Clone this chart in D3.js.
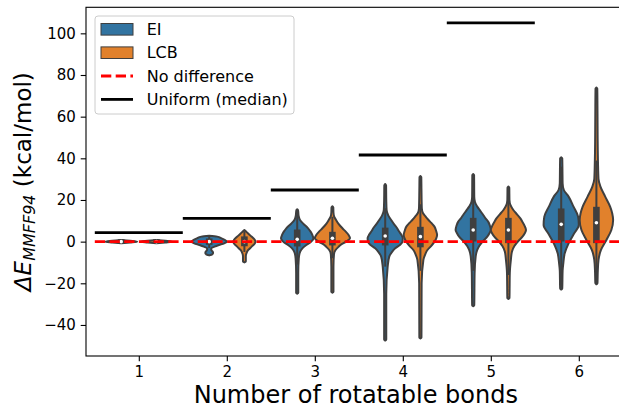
<!DOCTYPE html>
<html><head><meta charset="utf-8">
<script src="https://cdn.jsdelivr.net/npm/d3@7"></script>
<style>
body{margin:0;background:#fff}
svg{display:block}
text{font-family:"DejaVu Sans",sans-serif;fill:#000}
</style></head>
<body>
<svg id="chart" width="619" height="410"></svg>
<script>
// ---------------- data ----------------
const categories = [1, 2, 3, 4, 5, 6];
const seriesNames = ["EI", "LCB"];
const seriesColors = ["#3274a1", "#e1812c"];
const yTicks = [-40, -20, 0, 20, 40, 60, 80, 100];
const uniformMedian = [4.3, 11.2, 24.8, 41.6, 105, null];

// box stats per category: [whiskerLow, q1, median, q3, whiskerHigh]
const eiBox = [
  [-1, -0.4, 0, 0.4, 1],
  [-3, -0.8, 0, 0.8, 2.5],
  [-11, -1.6, 1.1, 5.1, 14.5],
  [-12, -1.1, 2.7, 6, 16],
  [-14, 0.8, 5.6, 10.7, 25],
  [-22, 0.8, 8.3, 15.2, 36]
];
const lcbBox = [
  [-1, -0.4, 0, 0.4, 1],
  [-5, -1.5, 0, 1.8, 5],
  [-8, -1.1, 1.6, 4, 12],
  [-14, -2, 2.4, 6.4, 18],
  [-16, 0, 5.6, 10.7, 26],
  [-20, 0, 9.1, 16, 39]
];

// density profiles per category: [value, relative half width]
const eiDensity = [
  [[-0.8,0],[-0.4,0.5],[0,0.9],[0.4,0.5],[0.8,0]],
  [[-6.6,0],[-6.3,0.12],[-5.6,0.22],[-4.8,0.2],[-4,0.12],[-3.2,0.12],[-2.4,0.3],[-1.6,0.55],[-0.8,0.85],[0,1],[0.8,0.9],[1.6,0.7],[2.4,0.45],[2.8,0]],
  [[-25,0],[-24.5,0.06],[-15,0.06],[-8,0.09],[-4.8,0.17],[-3,0.32],[-1.6,0.52],[0,0.8],[1.6,0.92],[3.2,0.86],[4.8,0.76],[6.4,0.62],[8.5,0.36],[10.4,0.16],[12.5,0.08],[15,0.05],[15.5,0]],
  [[-47.5,0],[-47,0.06],[-25,0.06],[-12,0.14],[-7.2,0.23],[-5,0.38],[-3.2,0.57],[-1.5,0.85],[0,0.98],[1.7,1],[3.5,0.9],[5,0.78],[6.4,0.68],[8.4,0.5],[10.4,0.34],[12.5,0.18],[15.2,0.08],[20,0.06],[27,0.05],[27.7,0]],
  [[-31,0],[-30.5,0.06],[-15,0.08],[-7.2,0.14],[-4,0.23],[-2,0.35],[-0.8,0.45],[0.8,0.62],[2.4,0.8],[4,0.92],[5.6,1],[7.6,0.95],[9.6,0.85],[11.2,0.7],[12.8,0.57],[14.8,0.4],[16.8,0.23],[19,0.1],[21.6,0.06],[32,0.05],[32.5,0]],
  [[-23,0],[-22.5,0.06],[-14,0.08],[-10.4,0.12],[-5.6,0.2],[-0.8,0.42],[4,0.74],[8,1],[12,0.96],[16.8,0.7],[21.6,0.42],[24.8,0.15],[28,0.08],[35,0.07],[40,0.06],[40.5,0]]
];
const lcbDensity = [
  [[-0.8,0],[-0.4,0.5],[0,0.9],[0.4,0.5],[0.8,0]],
  [[-10,0],[-9.5,0.08],[-7,0.08],[-5.5,0.12],[-4,0.22],[-2.5,0.4],[-1,0.58],[0,0.63],[1,0.58],[2.5,0.4],[4,0.2],[5,0.08],[5.6,0]],
  [[-24.5,0],[-24,0.06],[-12,0.06],[-6,0.09],[-4,0.18],[-2.5,0.35],[-1.6,0.46],[0,0.78],[1.6,1],[3.2,0.92],[4.8,0.76],[6.4,0.57],[8.5,0.35],[10.5,0.2],[12,0.1],[14,0.06],[16.5,0.05],[17,0]],
  [[-46.5,0],[-46,0.06],[-20,0.07],[-8.8,0.17],[-6,0.28],[-4,0.4],[-2,0.62],[0,0.8],[1.6,0.9],[3.2,0.95],[5,0.9],[7.2,0.8],[9,0.62],[10.5,0.45],[12,0.3],[13.6,0.15],[16,0.08],[25,0.06],[31,0.05],[31.5,0]],
  [[-27.5,0],[-27,0.06],[-15,0.08],[-8.8,0.14],[-4.8,0.2],[-2,0.35],[-0.8,0.45],[0.8,0.62],[2.4,0.8],[4,0.93],[5.6,1],[7.6,0.92],[9.4,0.8],[11.2,0.68],[13,0.5],[15.2,0.28],[17.5,0.12],[20,0.06],[26,0.05],[26.5,0]],
  [[-20.5,0],[-20,0.06],[-14,0.08],[-8.8,0.12],[-4,0.26],[0.8,0.57],[5.6,0.85],[10.4,0.95],[13.5,0.9],[16.8,0.78],[21.6,0.5],[26.4,0.23],[30,0.12],[38,0.09],[50,0.07],[65,0.06],[73.5,0.05],[74,0]]
];

// ---------------- layout ----------------
const svg = d3.select("#chart");
const L = 86, R = 631.6, T = 7.3, B = 356;
const x = d3.scaleLinear().domain([0.4, 6.6]).range([L, R]);
const y = d3.scaleLinear().domain([-54.9, 112.5]).range([B, T]);
const dodge = 0.2, halfW = x(0.2) - x(0);
const edge = "#3f3f3f";

svg.append("defs").append("clipPath").attr("id", "clip")
  .append("rect").attr("x", L).attr("y", T).attr("width", R - L).attr("height", B - T);
const plot = svg.append("g").attr("clip-path", "url(#clip)");

const allDensity = [eiDensity, lcbDensity];
const allBox = [eiBox, lcbBox];

seriesNames.forEach((s, si) => {
  categories.forEach((c, ci) => {
    const cx = x(c + (si === 0 ? -dodge : dodge));
    const prof = allDensity[si][ci].slice().sort((a, b) => b[0] - a[0]);
    const area = d3.area().curve(d3.curveMonotoneY)
      .y(d => y(d[0]))
      .x0(d => cx - d[1] * halfW)
      .x1(d => cx + d[1] * halfW);
    plot.append("path").attr("d", area(prof))
      .attr("fill", seriesColors[si]).attr("stroke", edge)
      .attr("stroke-width", 2).attr("stroke-linejoin", "round");
    const b = allBox[si][ci];
    plot.append("line").attr("x1", cx).attr("x2", cx)
      .attr("y1", y(b[0])).attr("y2", y(b[4]))
      .attr("stroke", edge).attr("stroke-width", 2);
    plot.append("rect").attr("x", cx - 3.3).attr("width", 6.6)
      .attr("y", y(b[3]) - 1.5).attr("height", Math.max(0, y(b[1]) - y(b[3])) + 3)
      .attr("fill", edge);
    plot.append("circle").attr("cx", cx).attr("cy", y(b[2])).attr("r", 1.8)
      .attr("fill", "#fff");
  });
});

// no difference line
plot.append("line").attr("x1", x(0.5)).attr("x2", x(6.5))
  .attr("y1", y(0)).attr("y2", y(0))
  .attr("stroke", "red").attr("stroke-width", 2.8)
  .attr("stroke-dasharray", "10.3,4.4");

// uniform medians
categories.forEach((c, ci) => {
  const v = uniformMedian[ci];
  if (v == null) return;
  plot.append("line").attr("x1", x(c - 0.5)).attr("x2", x(c + 0.5))
    .attr("y1", y(v)).attr("y2", y(v))
    .attr("stroke", "#000").attr("stroke-width", 2.8);
});

// axes
const fmt = d => d < 0 ? "\u2212" + Math.abs(d) : String(d);
const ya = svg.append("g").attr("transform", `translate(${L},0)`)
  .call(d3.axisLeft(y).tickValues(yTicks).tickSize(5.3).tickPadding(4.9).tickFormat(fmt));
const xa = svg.append("g").attr("transform", `translate(0,${B})`)
  .call(d3.axisBottom(x).tickValues(categories).tickSize(5.3).tickPadding(4.9).tickFormat(d => d));
[ya, xa].forEach(a => {
  a.select(".domain").remove();
  a.selectAll(".tick line").attr("stroke", "#000").attr("stroke-width", 1.1);
  a.selectAll(".tick text").attr("font-size", 15).attr("fill", "#000")
    .style("font-family", "DejaVu Sans");
});

// spines
svg.append("rect").attr("x", L).attr("y", T).attr("width", R - L).attr("height", B - T)
  .attr("fill", "none").attr("stroke", "#000").attr("stroke-width", 1.1);

// axis labels
svg.append("text").attr("x", (L + R) / 2 - 3).attr("y", 403)
  .attr("text-anchor", "middle").attr("font-size", 24)
  .text("Number of rotatable bonds");

const yl = svg.append("text")
  .attr("transform", `translate(31,${(T + B) / 2}) rotate(-90)`)
  .attr("text-anchor", "middle").attr("font-size", 23);
yl.append("tspan").attr("font-style", "italic").text("\u0394E");
yl.append("tspan").attr("font-style", "italic").attr("font-size", 16).attr("dy", 4).text("MMFF94");
yl.append("tspan").attr("dy", -4).text("\u00a0(kcal/mol)");

// legend
const lg = svg.append("g");
lg.append("rect").attr("x", 95).attr("y", 16).attr("width", 199).attr("height", 98)
  .attr("rx", 3).attr("fill", "#fff").attr("fill-opacity", 0.8)
  .attr("stroke", "#cccccc").attr("stroke-width", 1);
const rowY = [29.3, 52.7, 76, 99.4];
seriesNames.forEach((s, i) => {
  lg.append("rect").attr("x", 101).attr("y", rowY[i] - 5.8).attr("width", 32).attr("height", 11.6)
    .attr("fill", seriesColors[i]).attr("stroke", edge).attr("stroke-width", 1);
});
lg.append("line").attr("x1", 101).attr("x2", 133).attr("y1", rowY[2]).attr("y2", rowY[2])
  .attr("stroke", "red").attr("stroke-width", 2.8).attr("stroke-dasharray", "10.3,4.4");
lg.append("line").attr("x1", 101).attr("x2", 133).attr("y1", rowY[3]).attr("y2", rowY[3])
  .attr("stroke", "#000").attr("stroke-width", 2.8);
const legendLabels = seriesNames.concat(["No difference", "Uniform (median)"]);
legendLabels.forEach((t, i) => {
  lg.append("text").attr("x", 146.7).attr("y", rowY[i]).attr("dy", "0.36em")
    .attr("font-size", 16).text(t);
});
</script>
</body></html>
